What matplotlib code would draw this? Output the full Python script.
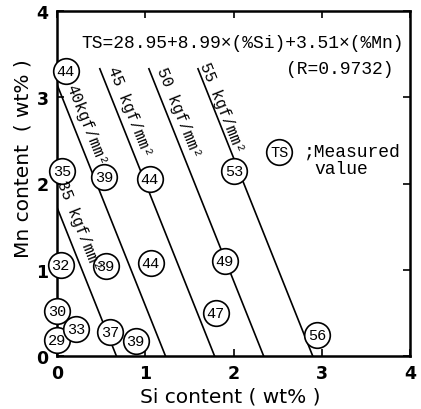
import numpy as np
import matplotlib
matplotlib.use("Agg")
from matplotlib import pyplot as plt

# regression shown on the chart
c0, c_si, c_mn = 28.95, 8.99, 3.51

# iso-strength lines (kgf/mm2) and the Mn level where each line starts
levels = [35, 40, 45, 50, 55]
line_top_mn = [1.72, 3.15, 3.33, 3.33, 3.33]
line_labels = ["35 kgf/mm²", "40kgf/mm²", "45 kgf/mm²", "50 kgf/mm²", "55 kgf/mm²"]
label_si = [0.25, 0.33, 0.82, 1.38, 1.87]
label_mn = [1.52, 2.69, 2.84, 2.83, 2.89]

# measured tensile strengths
meas_si = [0.10, 0.06, 0.04, 0.00, 0.00, 0.22, 0.53, 1.05, 2.01, 0.55, 1.06, 1.90, 1.80, 0.60, 0.89, 2.95]
meas_mn = [3.31, 2.14, 1.06, 0.52, 0.19, 0.31, 2.07, 2.05, 2.14, 1.04, 1.08, 1.10, 0.50, 0.28, 0.17, 0.24]
meas_ts = [44, 35, 32, 30, 29, 33, 39, 44, 53, 39, 44, 49, 47, 37, 39, 56]

mono = "Liberation Mono"

fig = plt.figure(figsize=(4.21, 4.10), dpi=100)
ax = fig.add_axes([57 / 421, 1 - 357 / 410, 353 / 421, 345 / 410])
ax.set_xlim(0, 4)
ax.set_ylim(0, 4)

for lev, top in zip(levels, line_top_mn):
    mn = np.array([top, 0.0])
    si = (lev - c0 - c_mn * mn) / c_si
    if si[0] < 0:
        si[0] = 0.0
        mn[0] = (lev - c0) / c_mn
    ax.plot(si, mn, color="black", lw=1.2, zorder=2)

# rotation of the lines on screen
sx = 353 / 4
sy = 345 / 4
ang = -np.degrees(np.arctan(c_si / c_mn * sy / sx))
for txt, x, y in zip(line_labels, label_si, label_mn):
    ax.text(x, y, txt, rotation=ang, rotation_mode="anchor", ha="center", va="center",
            fontsize=11.5, family=mono, zorder=5)

ax.scatter(meas_si, meas_mn, s=340, facecolor="white", edgecolor="black", lw=1.2,
           zorder=3, clip_on=False)
for x, y, v in zip(meas_si, meas_mn, meas_ts):
    ax.text(x, y, str(v), ha="center", va="center", fontsize=11, family=mono, zorder=4)

ax.text(0.28, 3.64, "TS=28.95+8.99×(%Si)+3.51×(%Mn)", ha="left", va="center",
        fontsize=13, family=mono)
ax.text(2.6, 3.33, "(R=0.9732)", ha="left", va="center", fontsize=13, family=mono)

ax.scatter([2.52], [2.37], s=340, facecolor="white", edgecolor="black", lw=1.2, zorder=3)
ax.text(2.52, 2.37, "TS", ha="center", va="center", fontsize=11, family=mono, zorder=4)
ax.text(2.80, 2.37, ";Measured", ha="left", va="center", fontsize=13, family=mono)
ax.text(2.92, 2.17, "value", ha="left", va="center", fontsize=13, family=mono)

ax.set_xticks([0, 1, 2, 3, 4])
ax.set_yticks([0, 1, 2, 3, 4])
ax.tick_params(direction="in", length=5, width=1.2, top=True, right=True,
               labelsize=12.5, pad=6)
for lab in ax.get_xticklabels() + ax.get_yticklabels():
    lab.set_fontweight("bold")
for sp in ax.spines.values():
    sp.set_linewidth(1.8)

ax.set_xlabel("Si content ( wt% )", fontsize=14.5)
ax.set_ylabel("Mn content  ( wt% )", fontsize=14.5)
ax.xaxis.set_label_coords(0.49, -0.088)
ax.yaxis.set_label_coords(-0.07, 0.574)

fig.savefig("out.png", dpi=100)
